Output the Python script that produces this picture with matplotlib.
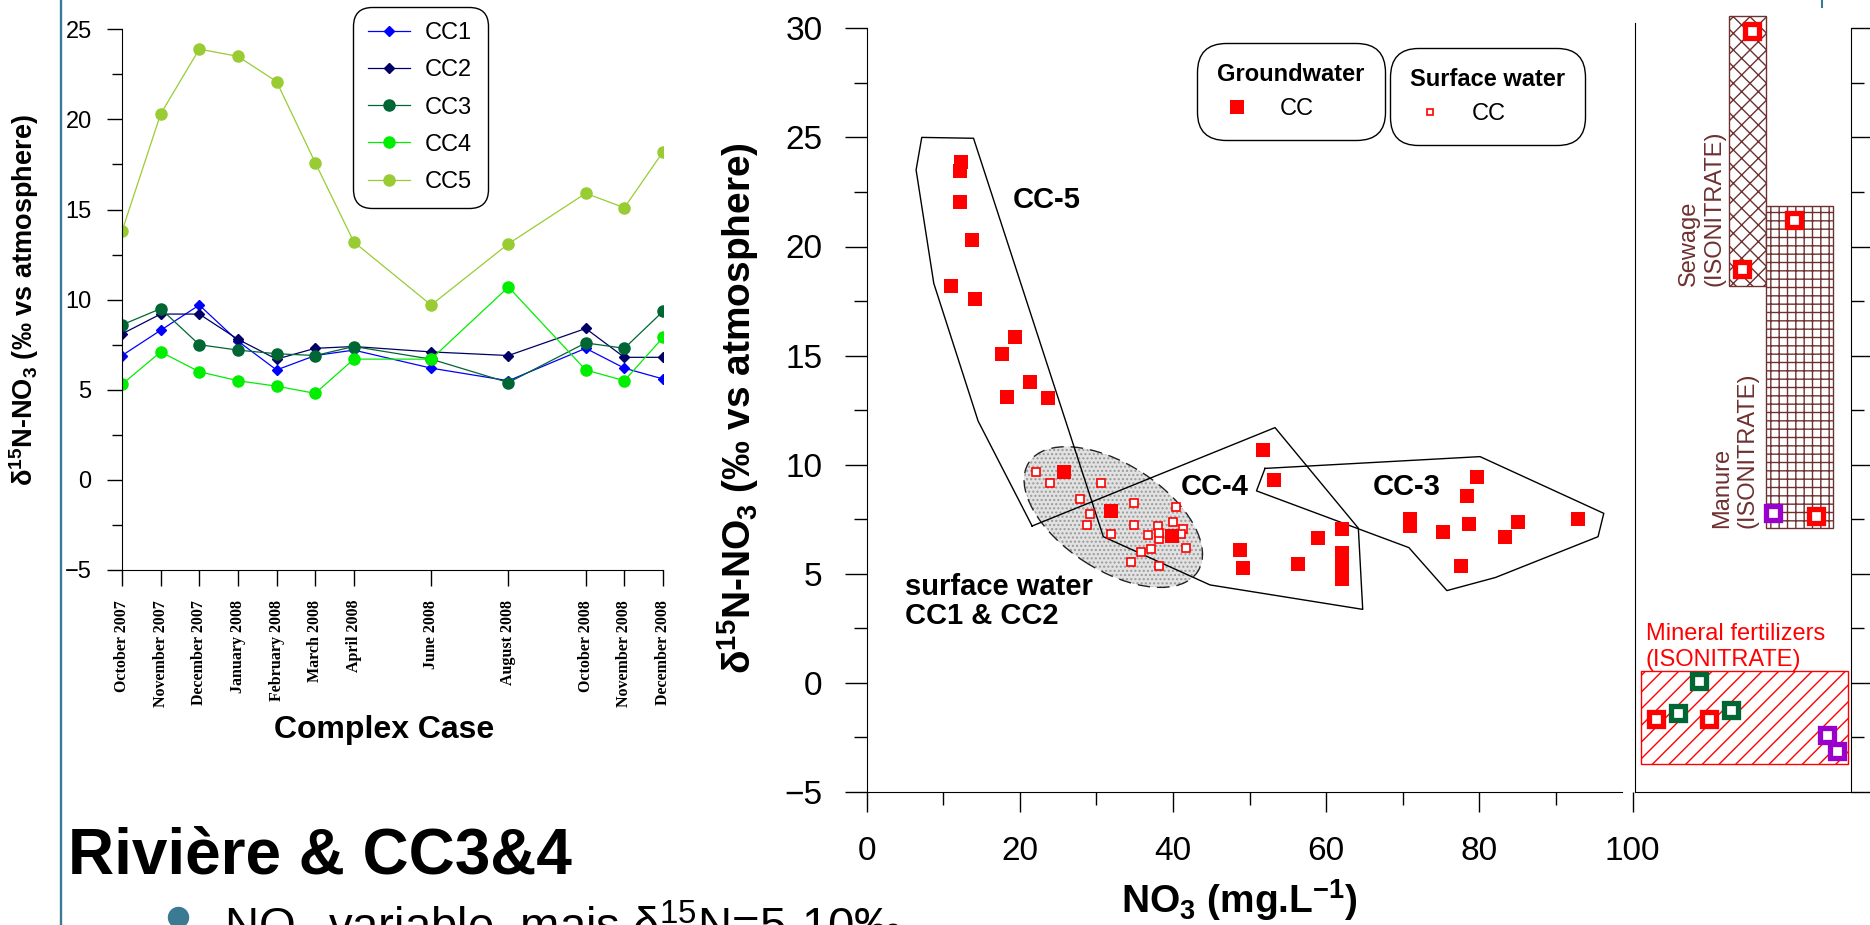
import matplotlib
matplotlib.use('Agg')
import matplotlib.pyplot as plt
import matplotlib.transforms as mtransforms
from matplotlib.patches import Ellipse, Rectangle
from matplotlib.lines import Line2D
from matplotlib.ticker import MultipleLocator

# ---------------- data ----------------
months = [0, 1, 2, 3, 4, 5, 6, 8, 10, 12, 13, 14]
month_labels = ['October 2007', 'November 2007', 'December 2007', 'January 2008',
                'February 2008', 'March 2008', 'April 2008', 'June 2008',
                'August 2008', 'October 2008', 'November 2008', 'December 2008']
cc1 = [6.9, 8.3, 9.7, 7.7, 6.1, 6.9, 7.2, 6.2, 5.5, 7.3, 6.2, 5.6]
cc2 = [8.1, 9.2, 9.2, 7.8, 6.7, 7.3, 7.4, 7.1, 6.9, 8.4, 6.8, 6.8]
cc3 = [8.6, 9.5, 7.5, 7.2, 7.0, 6.9, 7.4, 6.7, 5.4, 7.6, 7.3, 9.35]
cc4 = [5.3, 7.1, 6.0, 5.5, 5.2, 4.8, 6.7, 6.7, 10.7, 6.1, 5.5, 7.9]
cc5 = [13.8, 20.3, 23.9, 23.5, 22.1, 17.6, 13.2, 9.7, 13.1, 15.9, 15.1, 18.2]

# groundwater (filled squares): NO3 (mg/L), d15N
gw_no3 = [12.37, 12.18, 12.18, 13.71, 11.02, 14.17, 19.42, 17.69, 21.36, 18.36, 23.7, 25.8,
          31.86, 39.82,
          51.71, 53.19, 62.03, 58.89, 48.75, 49.10, 56.28, 62.03, 62.03, 62.03, 62.03,
          79.65, 78.35, 70.9, 70.9, 75.21, 78.65, 85.09, 83.39, 77.56, 92.87]
gw_d15n = [23.89, 23.47, 22.05, 20.30, 18.20, 17.58, 15.87, 15.07, 13.78, 13.12, 13.07, 9.68,
           7.88, 6.72,
           10.67, 9.30, 7.05, 6.65, 6.09, 5.25, 5.45, 5.95, 5.54, 5.13, 4.74,
           9.45, 8.57, 7.51, 7.19, 6.93, 7.27, 7.36, 6.67, 5.36, 7.50]
# surface water (open squares)
sw_no3 = [22.11, 23.94, 30.56, 27.85, 34.95, 40.35, 29.16, 31.77, 28.73, 34.95, 40.04, 31.86,
          38.0, 36.69, 38.21, 41.26, 41.04, 41.66, 37.12, 35.82, 34.51, 38.13, 38.2, 40.0]
sw_d15n = [9.68, 9.18, 9.18, 8.43, 8.26, 8.08, 7.74, 7.77, 7.24, 7.24, 7.36, 6.84,
           7.17, 6.78, 6.58, 7.04, 6.82, 6.17, 6.14, 6.01, 5.53, 5.36, 6.85, 6.75]

# hand-drawn group outlines (NO3, d15N)
cc54_outline_x = [21.6, 14.55, 8.76, 6.45, 7.19, 13.95, 30.90, 44.83, 64.77, 64.20, 53.32, 21.6]
cc54_outline_y = [7.19, 12.0, 18.31, 23.51, 25.0, 24.96, 6.70, 4.49, 3.37, 7.09, 11.70, 7.19]
cc3_outline_x = [52.01, 80.09, 96.25, 95.5, 82.1, 75.76, 70.8, 50.9, 52.01]
cc3_outline_y = [9.83, 10.37, 7.77, 6.7, 4.83, 4.23, 6.2, 8.8, 9.83]
sw_ellipse_center = (32.2, 7.6)

# ISONITRATE source ranges (d15N)
sewage_range = (18.2, 30.55)
manure_range = (7.08, 21.87)
mineral_range = (-3.73, 0.55)
# ISONITRATE samples: position in panel, d15N
iso_red_pos = [0.541, 0.495, 0.739, 0.840, 0.099, 0.345]
iso_red_d15n = [29.88, 18.95, 21.21, 7.66, -1.67, -1.65]
iso_green_pos = [0.198, 0.297, 0.444]
iso_green_d15n = [-1.39, 0.10, -1.24]
iso_purple_pos = [0.642, 0.889, 0.936]
iso_purple_d15n = [7.77, -2.39, -3.12]

# ---------------- style ----------------
plt.rcParams['font.family'] = ['Liberation Sans', 'DejaVu Sans']
plt.rcParams['mathtext.fontset'] = 'custom'
plt.rcParams['mathtext.rm'] = 'Liberation Sans'
plt.rcParams['mathtext.bf'] = 'Liberation Sans:bold'
plt.rcParams['mathtext.it'] = 'Liberation Sans:italic'
plt.rcParams['hatch.linewidth'] = 1.0

W, H = 1870, 925
fig = plt.figure(figsize=(W / 100, H / 100), dpi=100)


def fx(px):
    return px / W


def fy(py):
    return 1 - py / H


BROWN = '#6e3030'
TEAL = '#3b7a93'

# ---------------- left chart ----------------
ax1 = fig.add_axes([fx(122), fy(570), fx(663) - fx(122), (570 - 29.3) / H])
ax1.set_xlim(0, 14)
ax1.set_ylim(-5, 25)
for s in ['top', 'right']:
    ax1.spines[s].set_visible(False)
series = [('CC1', cc1, '#0000ff', 'D', 5.6),
          ('CC2', cc2, '#000066', 'D', 5.6),
          ('CC3', cc3, '#006633', 'o', 8.0),
          ('CC4', cc4, '#00ee00', 'o', 8.0),
          ('CC5', cc5, '#99cc33', 'o', 8.0)]
for name, vals, col, mk, ms in series:
    ax1.plot(months, vals, color=col, lw=0.9, marker=mk, ms=ms, mec=col, mfc=col, label=name)
ax1.yaxis.set_major_locator(MultipleLocator(5))
ax1.yaxis.set_minor_locator(MultipleLocator(2.5))
ax1.set_xticks(months)
ax1.set_xticklabels(month_labels, rotation=90, fontfamily='Liberation Serif',
                    fontweight='bold', fontsize=11.5)
ax1.tick_params(axis='y', which='major', direction='out', length=10.8, width=1, labelsize=17, pad=11)
ax1.tick_params(axis='y', which='minor', direction='out', length=7.2, width=1)
ax1.tick_params(axis='x', which='major', direction='out', length=11.5, width=1, pad=10)
leg1 = ax1.legend(loc='upper left', bbox_to_anchor=(fx(352.7), fy(7)), bbox_transform=fig.transFigure,
                  borderaxespad=0, fontsize=17, handlelength=1.78, handletextpad=0.64,
                  labelspacing=0.64, borderpad=0.65, frameon=True, fancybox=True,
                  edgecolor='black', framealpha=1, numpoints=1)
leg1.get_frame().set_boxstyle('round', pad=0, rounding_size=0.8)
leg1.get_frame().set_linewidth(1)

fig.text(fx(24.5), fy(300), r'δ$^{\mathbf{15}}$N-NO$_{\mathbf{3}}$ (‰ vs atmosphere)',
         rotation=90, ha='center', va='center', fontsize=19.5, fontweight='bold')
fig.text(fx(384), fy(730), 'Complex Case', ha='center', va='center', fontsize=23, fontweight='bold')

# ---------------- right chart ----------------
ax2 = fig.add_axes([fx(866.7), fy(792), fx(1632.5) - fx(866.7), (792 - 28.3) / H])
ax2.set_xlim(0, 100)
ax2.set_ylim(-5, 30)
for s in ['top', 'right']:
    ax2.spines[s].set_visible(False)
ax2.spines['bottom'].set_bounds(0, 98.6)
ax2.xaxis.set_major_locator(MultipleLocator(20))
ax2.xaxis.set_minor_locator(MultipleLocator(10))
ax2.yaxis.set_major_locator(MultipleLocator(5))
ax2.yaxis.set_minor_locator(MultipleLocator(2.5))
ax2.tick_params(axis='x', which='major', direction='out', length=14.4, width=1, labelsize=24, pad=17)
ax2.tick_params(axis='x', which='minor', direction='out', length=9.4, width=1)
ax2.tick_params(axis='y', which='major', direction='out', length=15.8, width=1, labelsize=24, pad=16)
ax2.tick_params(axis='y', which='minor', direction='out', length=9.4, width=1)

# surface water ellipse (size in inches, centred on data point)
etrans = fig.dpi_scale_trans + mtransforms.ScaledTranslation(sw_ellipse_center[0], sw_ellipse_center[1],
                                                               ax2.transData)
ax2.add_patch(Ellipse((0, 0), 2.01, 1.06, angle=-32.8, transform=etrans, facecolor='#e2e2e2',
                      edgecolor='#9a9a9a', lw=0, hatch='....', zorder=1))
ax2.add_patch(Ellipse((0, 0), 2.01, 1.06, angle=-32.8, transform=etrans, fill=False,
                      edgecolor='#222222', lw=1, ls=(0, (9, 5)), zorder=1.1))
ax2.plot(cc54_outline_x, cc54_outline_y, color='black', lw=1, zorder=2)
ax2.plot(cc3_outline_x, cc3_outline_y, color='black', lw=1, zorder=2)

ax2.plot(sw_no3, sw_d15n, ls='none', marker='s', ms=5.3, mfc='white', mec='red', mew=1.2, zorder=3)
ax2.plot(gw_no3, gw_d15n, ls='none', marker='s', ms=9.4, mfc='red', mec='red', mew=0, zorder=4)

for label, (x, y) in [('CC-5', (23.54, 22.13)), ('CC-4', (45.48, 8.98)), ('CC-3', (70.46, 8.99))]:
    ax2.text(x, y, label, ha='center', va='center', fontsize=21, fontweight='bold', zorder=5)
ax2.text(5.0, 3.75, 'surface water\nCC1 & CC2', ha='left', va='center', fontsize=21,
         fontweight='bold', linespacing=1.05, zorder=5)

gw_handle = Line2D([], [], ls='none', marker='s', ms=9.4, mfc='red', mec='red', mew=0)
sw_handle = Line2D([], [], ls='none', marker='s', ms=5.0, mfc='white', mec='red', mew=1.2)
common = dict(loc='upper left', bbox_transform=fig.transFigure, borderaxespad=0, fontsize=17,
              title_fontproperties={'weight': 'bold', 'size': 17}, alignment='left',
              handlelength=1.7, handletextpad=0.95, borderpad=0.85, frameon=True, fancybox=True,
              edgecolor='black', framealpha=1)
legA = ax2.legend([gw_handle], ['CC'], title='Groundwater', bbox_to_anchor=(fx(1197.3), fy(43.3)), **common)
legA.get_frame().set_boxstyle('round', pad=0, rounding_size=1.2)
ax2.add_artist(legA)
legB = ax2.legend([sw_handle], ['CC'], title='Surface water', bbox_to_anchor=(fx(1389.6), fy(48.3)), **common)
legB.get_frame().set_boxstyle('round', pad=0, rounding_size=1.2)

fig.text(fx(738), fy(408), r'δ$^{\mathbf{15}}$N-NO$_{\mathbf{3}}$ (‰ vs atmosphere)',
         rotation=90, ha='center', va='center', fontsize=28, fontweight='bold')
fig.text(fx(1239), fy(900), r'NO$_{\mathbf{3}}$ (mg.L$^{\mathbf{-1}}$)', ha='center', va='center',
         fontsize=28, fontweight='bold')

# ---------------- ISONITRATE panel ----------------
ax3 = fig.add_axes([fx(1635), fy(792), fx(1850.7) - fx(1635), (792 - 28.3) / H])
ax3.set_xlim(0, 1)
ax3.set_ylim(-5, 30)
ax3.spines['top'].set_visible(False)
ax3.spines['left'].set_bounds(-5, 30.24)
ax3.set_xticks([])
ax3.yaxis.tick_right()
ax3.yaxis.set_major_locator(MultipleLocator(5))
ax3.yaxis.set_minor_locator(MultipleLocator(2.5))
ax3.tick_params(axis='y', which='major', direction='out', length=15.8, width=1, labelright=False)
ax3.tick_params(axis='y', which='minor', direction='out', length=9.4, width=1)

ax3.add_patch(Rectangle((0.437, sewage_range[0]), 0.607 - 0.437, sewage_range[1] - sewage_range[0],
                        facecolor='white', edgecolor=BROWN, lw=1, hatch='xx', clip_on=False, zorder=1))
ax3.add_patch(Rectangle((0.607, manure_range[0]), 0.916 - 0.607, manure_range[1] - manure_range[0],
                        facecolor='white', edgecolor=BROWN, lw=1, hatch='++', clip_on=False, zorder=1))
ax3.add_patch(Rectangle((0.026, mineral_range[0]), 0.987 - 0.026, mineral_range[1] - mineral_range[0],
                        facecolor='white', edgecolor='red', lw=1, hatch='//', clip_on=False, zorder=1))
ax3.text(0.3106, sewage_range[0], 'Sewage\n(ISONITRATE)', rotation=90, ha='center', va='bottom',
         multialignment='left', color=BROWN, fontsize=17)
ax3.text(0.4636, manure_range[0], 'Manure\n(ISONITRATE)', rotation=90, ha='center', va='bottom',
         multialignment='left', color=BROWN, fontsize=17)
ax3.text(0.0496, mineral_range[1], 'Mineral fertilizers\n(ISONITRATE)', ha='left', va='bottom',
         multialignment='left', color='red', fontsize=17)
for pos, vals, col in [(iso_red_pos, iso_red_d15n, '#ff0000'),
                       (iso_green_pos, iso_green_d15n, '#006633'),
                       (iso_purple_pos, iso_purple_d15n, '#9900cc')]:
    ax3.plot(pos, vals, ls='none', marker='s', ms=9.5, mfc='white', mec=col, mew=3.8,
             clip_on=False, zorder=3)

# ---------------- slide decorations ----------------
fig.add_artist(Line2D([fx(61), fx(61)], [0, 1], color=TEAL, lw=1.7, transform=fig.transFigure))
fig.add_artist(Line2D([fx(1821.7), fx(1821.7)], [fy(0), fy(7)], color=TEAL, lw=1.5,
                      transform=fig.transFigure))
fig.text(fx(68), fy(874), 'Rivière & CC3&4', ha='left', va='baseline', fontsize=46, fontweight='bold')
fig.add_artist(Line2D([fx(177.7)], [fy(916.7)], ls='none', marker='o', ms=14.4, color=TEAL,
                      transform=fig.transFigure))
fig.text(fx(224), fy(940.5), r'NO$_3$ variable, mais δ$^{15}$N=5-10‰', ha='left', va='baseline',
         fontsize=34)

fig.savefig('out.png', dpi=100)
